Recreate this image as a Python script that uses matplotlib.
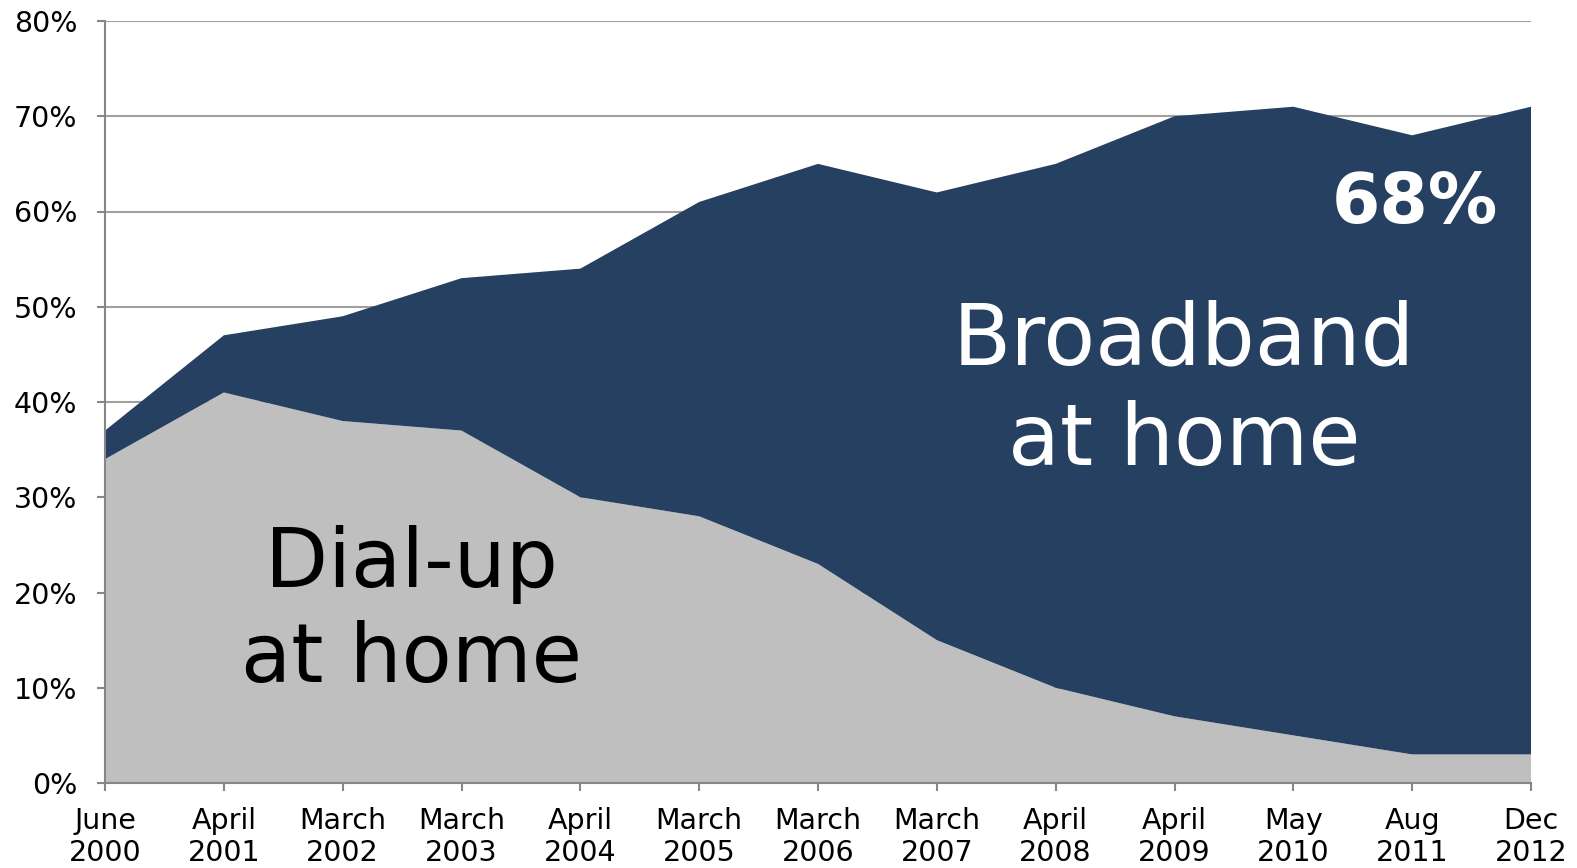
import matplotlib
matplotlib.use("Agg")
import matplotlib.pyplot as plt
from matplotlib.ticker import FuncFormatter

categories = ["June\n2000", "April\n2001", "March\n2002", "March\n2003", "April\n2004",
              "March\n2005", "March\n2006", "March\n2007", "April\n2008", "April\n2009",
              "May\n2010", "Aug\n2011", "Dec\n2012"]
dialup = [34, 41, 38, 37, 30, 28, 23, 15, 10, 7, 5, 3, 3]
broadband = [3, 6, 11, 16, 24, 33, 42, 47, 55, 63, 66, 65, 68]

plt.rcParams['font.family'] = ['DejaVu Sans']

fig = plt.figure(figsize=(15.77, 8.68), dpi=100)
ax = fig.add_axes([105/1577, 1 - 783/868, (1531 - 105)/1577, (783 - 21)/868])

x = list(range(len(categories)))
ax.stackplot(x, dialup, broadband, colors=["#BFBFBF", "#264061"], linewidth=0, zorder=2)

ax.set_xlim(0, len(categories) - 1)
ax.set_ylim(0, 80)
ax.set_yticks(range(0, 81, 10))
ax.yaxis.set_major_formatter(FuncFormatter(lambda v, p: f"{int(v)}%"))
ax.set_xticks(x)
ax.set_xticklabels(categories, linespacing=1.2)
ax.grid(axis='y', color="#A0A0A0", linewidth=1.5, zorder=1)
ax.set_axisbelow(True)
for s in ["top", "right"]:
    ax.spines[s].set_visible(False)
for s in ["left", "bottom"]:
    ax.spines[s].set_color("#868686")
    ax.spines[s].set_linewidth(1.5)
    ax.spines[s].set_zorder(3)
ax.tick_params(axis='both', colors="#868686", labelcolor="black", labelsize=20.5,
               length=6, width=1.5, direction='out')
ax.tick_params(axis='x', pad=11)
ax.tick_params(axis='y', pad=14)

ax.text(2.58, 20.6, "Dial-up", fontsize=59, color="black", ha="center",
        va="baseline", zorder=4)
ax.text(2.58, 10.6, "at home", fontsize=59, color="black", ha="center",
        va="baseline", zorder=4)
ax.text(9.08, 43.96, "Broadband", fontsize=61, color="white", ha="center",
        va="baseline", zorder=4)
ax.text(9.08, 33.4, "at home", fontsize=61, color="white", ha="center",
        va="baseline", zorder=4)
ax.text(11.02, 58.76, "68%", fontsize=50, color="white", fontweight="bold",
        ha="center", va="baseline", zorder=4)

fig.savefig("out.png", dpi=100)
